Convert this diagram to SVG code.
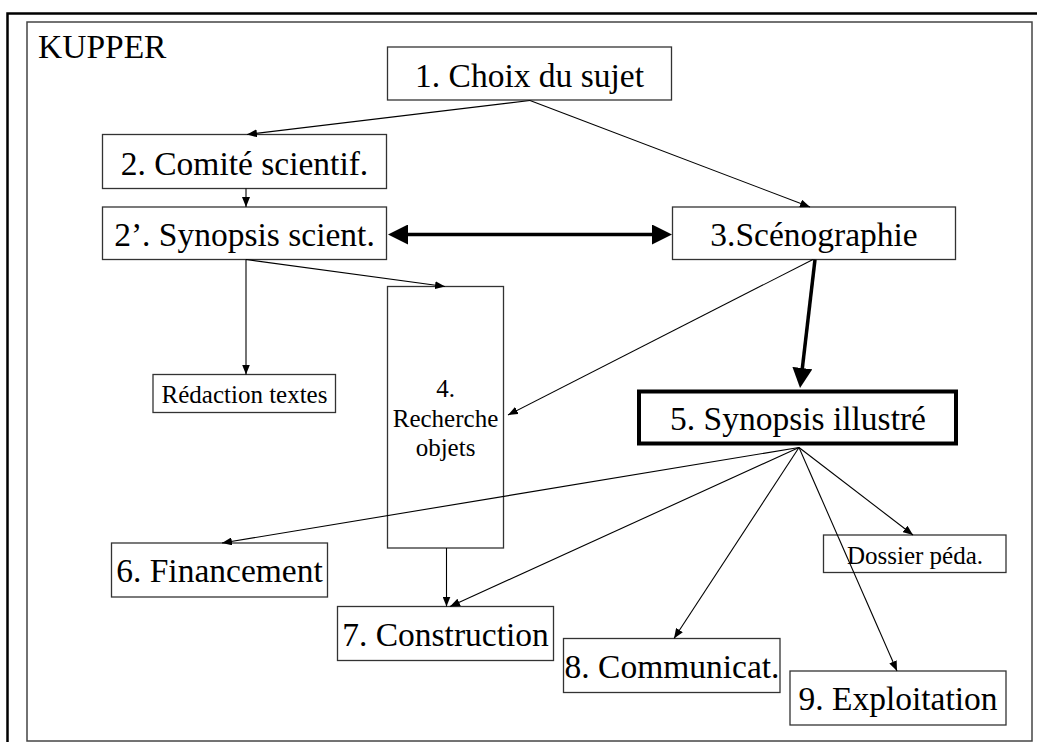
<svg xmlns="http://www.w3.org/2000/svg" width="1037" height="742" viewBox="0 0 1037 742">
<style>
.box{fill:#fff;stroke:#333;stroke-width:1.3}
.bold{fill:#fff;stroke:#000;stroke-width:4}
text{font-family:'Liberation Serif',Tinos,'Times New Roman',serif;fill:#000}
.t{font-size:33.5px;text-anchor:middle}
.s{font-size:25px;text-anchor:middle}
.thin{fill:none;stroke:#000;stroke-width:1.1;marker-end:url(#ah)}
.thick{fill:none;stroke:#000;stroke-width:3.5}
</style>
<defs>
<marker id="ah" markerUnits="userSpaceOnUse" viewBox="0 0 10 8" markerWidth="10" markerHeight="8" refX="10" refY="4" orient="auto"><path d="M0,0 L10,4 L0,8 z" fill="#000"/></marker>
<marker id="big" markerUnits="userSpaceOnUse" viewBox="0 0 20 20" markerWidth="20" markerHeight="20" refX="10" refY="10" orient="auto-start-reverse"><path d="M0,0 L20,10 L0,20 z" fill="#000"/></marker>
</defs>
<rect width="1037" height="742" fill="#fff"/>
<g id="frame">
<path d="M7.5,742 V13.5 H1037" fill="none" stroke="#000" stroke-width="2.5"/>
<rect x="27" y="22" width="1005" height="719" fill="none" stroke="#444" stroke-width="1.5"/>
<text x="38" y="58" font-family="Liberation Serif, serif" font-size="33.5">KUPPER</text>
</g>
<g id="n1"><rect class="box" x="387.5" y="47" width="284" height="53"/><text class="t" x="529.5" y="86.5">1. Choix du sujet</text></g>
<g id="n2"><rect class="box" x="102.5" y="134.5" width="284" height="54"/><text class="t" x="244.5" y="175">2. Comité scientif.</text></g>
<g id="n2b"><rect class="box" x="102.5" y="207" width="284" height="52.5"/><text class="t" x="244.5" y="245.5">2’. Synopsis scient.</text></g>
<g id="n3"><rect class="box" x="672.5" y="207" width="283" height="52.5"/><text class="t" x="814" y="245.5">3.Scénographie</text></g>
<g id="nred"><rect class="box" x="153" y="374.5" width="182.5" height="38"/><text class="s" x="244.5" y="402.5">Rédaction textes</text></g>
<g id="n4"><rect class="box" x="387.5" y="286.5" width="116" height="261.5"/>
<text class="s" x="445.5" y="397">4.</text><text class="s" x="445.5" y="426.5">Recherche</text><text class="s" x="445.5" y="456">objets</text></g>
<g id="n5"><rect class="bold" x="639" y="391.5" width="317" height="52"/><text class="t" x="798" y="430">5. Synopsis illustré</text></g>
<g id="ndos"><rect class="box" x="823.5" y="535" width="182.5" height="37.5"/><text class="s" x="915" y="563.5">Dossier péda.</text></g>
<g id="n6"><rect class="box" x="111.5" y="543" width="216" height="54"/><text class="t" x="219.5" y="581.5">6. Financement</text></g>
<g id="n7"><rect class="box" x="337.5" y="606.5" width="216" height="54"/><text class="t" x="445.5" y="645.5">7. Construction</text></g>
<g id="n8"><rect class="box" x="563.5" y="638.5" width="216.5" height="54"/><text class="t" x="672" y="677.5">8. Communicat.</text></g>
<g id="n9"><rect class="box" x="790" y="671" width="216" height="54"/><text class="t" x="898" y="710">9. Exploitation</text></g>
<g id="connectors">
<path class="thin" d="M530,100.5 L247,134.5"/>
<path class="thin" d="M530,100.5 L810,207"/>
<path class="thin" d="M246,188.5 V207"/>
<path class="thin" d="M246,259.5 L445,286.5"/>
<path class="thin" d="M246,259.5 V374.5"/>
<path class="thin" d="M813,259.5 L508,415"/>
<path class="thick" d="M398,234.5 H662" marker-start="url(#big)" marker-end="url(#big)"/>
<path class="thick" d="M815,259.5 L801.2,378" marker-end="url(#big)"/>
<path class="thin" d="M799,447.5 L222,543"/>
<path class="thin" d="M799,447.5 L450,606.5"/>
<path class="thin" d="M799,447.5 L674,638.5"/>
<path class="thin" d="M799,447.5 L897,671"/>
<path class="thin" d="M799,447.5 L913,535"/>
<path class="thin" d="M446.5,548 V606.5"/>
</g>
</svg>
